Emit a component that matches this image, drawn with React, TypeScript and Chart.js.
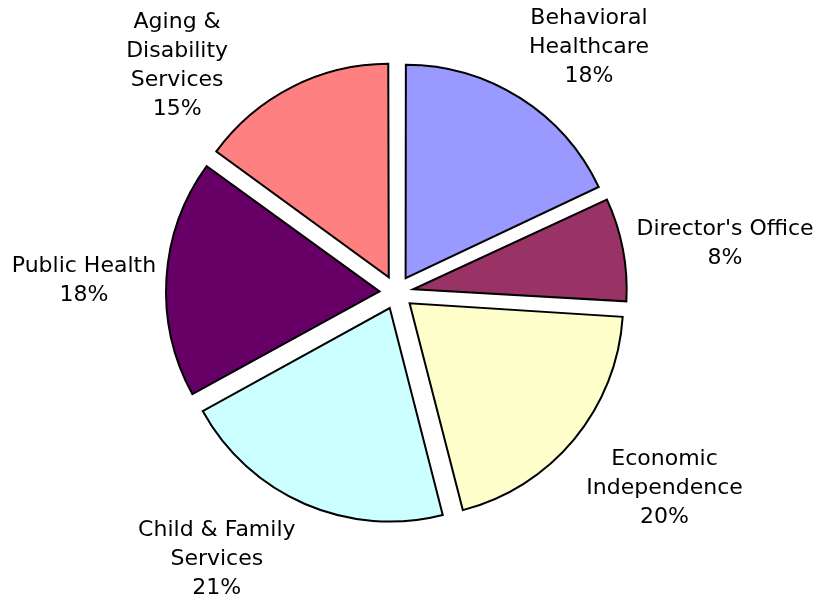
import React, { useEffect, useRef } from "react";
import { Chart, registerables } from "chart.js";

Chart.register(...registerables);

// ---- data ----
const categories = [
  "Behavioral Healthcare",
  "Director's Office",
  "Economic Independence",
  "Child & Family Services",
  "Public Health",
  "Aging & Disability Services",
];
const labelLines = [
  ["Behavioral", "Healthcare"],
  ["Director's Office"],
  ["Economic", "Independence"],
  ["Child & Family", "Services"],
  ["Public Health"],
  ["Aging &", "Disability", "Services"],
];
const shares = [18, 8, 20, 21, 18, 15];
const sliceColors = ["#9999FF", "#993366", "#FFFFCC", "#CCFFFF", "#660066", "#FF8080"];

// ---- label layout hints (angle shift from slice mid-angle in degrees, distance in radii) ----
const labelAngleShift = [5.7, 2.3, -3.5, 10.6, -1.5, -17];
const labelDistance = [1.461, 1.556, 1.554, 1.505, 1.465, 1.479];

const W = 819;
const H = 603;
const RADIUS = 213.5;
const EXPLODE = 17;
const CX = 396.5;
const CY = 292.5;
const FONT = '22px "DejaVu Sans", Verdana, sans-serif';
const LINE_H = 29;

const explodeFix = {
  id: "explodeFix",
  afterDatasetUpdate(chart: any, args: any) {
    const meta = chart.getDatasetMeta(args.index);
    meta.data.forEach((arc: any) => {
      const off = (arc.options?.offset || 0) / 4;
      const fix = 1 - Math.sin(Math.min(Math.PI, arc.circumference || 0));
      arc.outerRadius = arc.outerRadius - off * fix;
    });
  },
};

const outsideLabels = {
  id: "outsideLabels",
  afterDraw(chart: any) {
    const ctx = chart.ctx;
    const meta = chart.getDatasetMeta(0);
    const total = shares.reduce((a, b) => a + b, 0);
    const r = (meta.controller as any).outerRadius || RADIUS;
    ctx.save();
    ctx.font = FONT;
    ctx.fillStyle = "#000";
    ctx.textAlign = "center";
    ctx.textBaseline = "middle";
    meta.data.forEach((arc: any, i: number) => {
      const mid = (arc.startAngle + arc.endAngle) / 2 + (labelAngleShift[i] * Math.PI) / 180;
      const d = r * labelDistance[i];
      const x = arc.x + Math.cos(mid) * d;
      const y = arc.y + Math.sin(mid) * d;
      const lines = [...labelLines[i], Math.round((shares[i] / total) * 100) + "%"];
      lines.forEach((t, j) => {
        ctx.fillText(t, x, y + (j - (lines.length - 1) / 2) * LINE_H);
      });
    });
    ctx.restore();
  },
};

export default function App() {
  const ref = useRef<HTMLCanvasElement | null>(null);
  useEffect(() => {
    if (!ref.current) return;
    const chart = new Chart(ref.current, {
      type: "pie",
      data: {
        labels: categories,
        datasets: [
          {
            data: shares,
            backgroundColor: sliceColors,
            borderColor: "#000000",
            borderWidth: 2,
            borderJoinStyle: "miter",
            offset: EXPLODE * 4,
          } as any,
        ],
      },
      options: {
        responsive: false,
        animation: false,
        radius: RADIUS,
        layout: {
          padding: { left: 0, top: 0, right: W - 2 * CX, bottom: H - 2 * CY },
        },
        plugins: {
          legend: { display: false },
          tooltip: { enabled: false },
        },
      } as any,
      plugins: [explodeFix, outsideLabels],
    });
    return () => chart.destroy();
  }, []);
  return (
    <div style={{ position: "absolute", left: 0, top: 0, width: W, height: H, background: "#fff" }}>
      <canvas ref={ref} width={W} height={H} style={{ display: "block" }} />
    </div>
  );
}
